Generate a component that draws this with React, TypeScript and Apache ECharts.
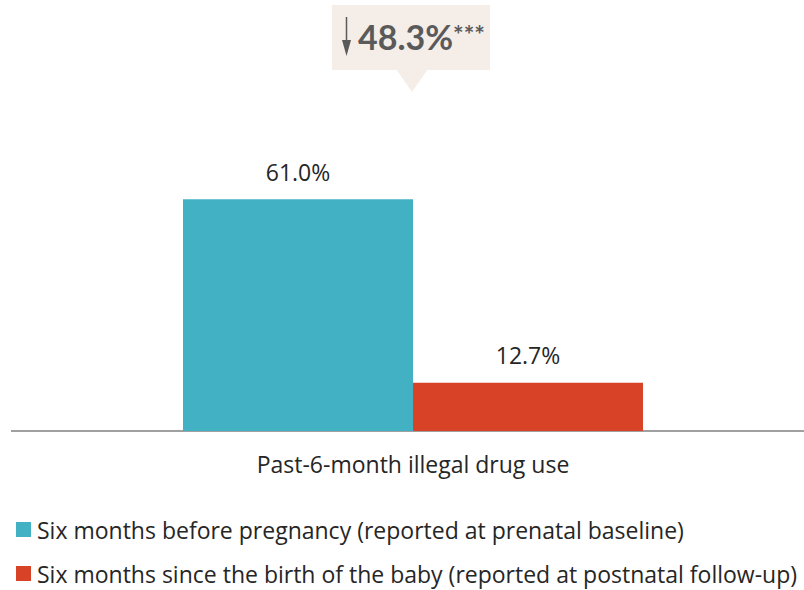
import React, { useEffect, useRef } from "react";
import * as echarts from "echarts";

const categories = ["Past-6-month illegal drug use"];
const seriesNames = [
  "Six months before pregnancy (reported at prenatal baseline)",
  "Six months since the birth of the baby (reported at postnatal follow-up)",
];
const beforeValues = [61.0];
const sinceValues = [12.7];
const seriesColors = ["#42b1c3", "#d84227"];
const changeLabel = "48.3%";
const significance = "***";

const FONT = "Open Sans";
const CALLOUT_FONT = "Lato";

export default function App() {
  const ref = useRef<HTMLDivElement>(null);
  useEffect(() => {
    if (!ref.current) return;
    const chart = echarts.init(ref.current, undefined, { renderer: "svg" });
    const labelStyle = {
      show: true,
      position: "top" as const,
      distance: 16,
      fontFamily: FONT,
      fontSize: 23,
      color: "#262626",
      formatter: (p: any) => p.value.toFixed(1) + "%",
    };
    const legendBase = {
      orient: "horizontal" as const,
      left: 16,
      padding: 0,
      icon: "rect",
      itemWidth: 15,
      itemHeight: 15,
      itemGap: 10,
      textStyle: { fontFamily: FONT, fontSize: 23, color: "#262626", padding: [0, 0, 0, 1] },
    };
    chart.setOption({
      animation: false,
      backgroundColor: "#ffffff",
      grid: { left: 22, right: 0, top: 51, bottom: 159, containLabel: false },
      xAxis: {
        type: "category",
        data: categories,
        axisLine: { show: true, lineStyle: { color: "#a0a0a0", width: 2 } },
        axisTick: { show: false },
        axisLabel: { fontFamily: FONT, fontSize: 23, color: "#262626", margin: 21 },
      },
      yAxis: { type: "value", min: 0, max: 100, show: false, splitLine: { show: false } },
      legend: [
        { ...legendBase, top: 518, data: [seriesNames[0]] },
        { ...legendBase, top: 562, data: [seriesNames[1]] },
      ],
      series: [
        {
          name: seriesNames[0],
          type: "bar",
          data: beforeValues,
          barWidth: 230,
          barGap: "0%",
          itemStyle: { color: seriesColors[0] },
          label: labelStyle,
        },
        {
          name: seriesNames[1],
          type: "bar",
          data: sinceValues,
          barWidth: 230,
          barGap: "0%",
          itemStyle: { color: seriesColors[1] },
          label: labelStyle,
        },
      ],
      graphic: [
        {
          type: "line",
          shape: { x1: 11, y1: 431, x2: 23, y2: 431 },
          style: { stroke: "#a0a0a0", lineWidth: 2 },
          silent: true,
        },
        {
          type: "rect",
          shape: { x: 332, y: 5, width: 158, height: 65 },
          style: { fill: "#f4ede8" },
          silent: true,
        },
        {
          type: "polygon",
          shape: { points: [[396, 69], [428, 69], [412, 92]] },
          style: { fill: "#f4ede8" },
          silent: true,
        },
        {
          type: "line",
          shape: { x1: 346.5, y1: 17, x2: 346.5, y2: 46 },
          style: { stroke: "#5a5a5a", lineWidth: 1.5 },
          silent: true,
        },
        {
          type: "polygon",
          shape: { points: [[342, 40], [351, 40], [346.5, 56]] },
          style: { fill: "#5a5a5a" },
          silent: true,
        },
        {
          type: "text",
          left: 358,
          top: 19,
          style: {
            text: changeLabel,
            fontFamily: CALLOUT_FONT,
            fontWeight: "bold",
            fontSize: 34,
            fill: "#5a5a5a",
          },
          silent: true,
        },
        {
          type: "text",
          left: 453,
          top: 21,
          style: {
            text: significance,
            fontFamily: CALLOUT_FONT,
            fontWeight: "bold",
            fontSize: 25,
            fill: "#5a5a5a",
          },
          silent: true,
        },
      ],
    });
    return () => chart.dispose();
  }, []);
  return (
    <div
      ref={ref}
      style={{ position: "absolute", left: 0, top: 0, width: 804, height: 590, background: "#fff" }}
    />
  );
}
